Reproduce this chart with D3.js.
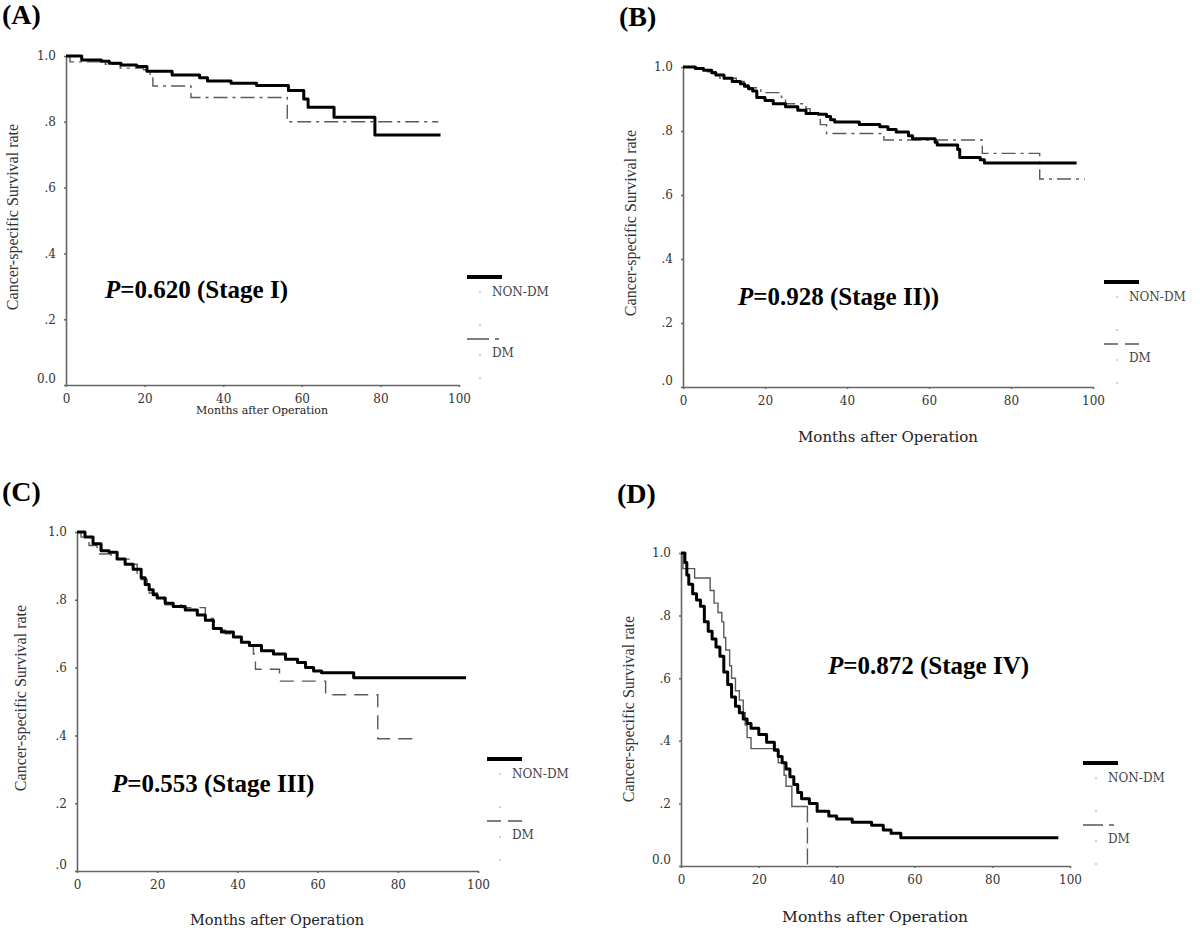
<!DOCTYPE html>
<html>
<head>
<meta charset="utf-8">
<script src="https://cdn.jsdelivr.net/npm/d3@7"></script>
<style>
  body { margin: 0; background: #fff; }
  svg { display: block; }
  .tick text { font-family: "DejaVu Serif", serif; fill: #333; }
  .domain, .tick line { stroke: #666; }
</style>
</head>
<body>
<svg id="chart" width="1200" height="937"></svg>
<script>
// Kaplan-Meier step points, [months, survival rate]
var nonDmA = [[0,1],[4,0.988],[9,0.984],[11,0.978],[14,0.973],[18,0.968],[20.6,0.954],[27,0.942],[34,0.934],[36,0.924],[42,0.917],[48.5,0.91],[56.6,0.895],[60.5,0.869],[61.6,0.844],[68.2,0.814],[78.6,0.76],[95.3,0.76]];
var dmA = [[0,1],[1,0.982],[10,0.975],[13.8,0.963],[17.5,0.963],[19.7,0.958],[21.4,0.94],[22.1,0.909],[31.8,0.874],[56.3,0.80],[94.7,0.80]];

var nonDmB = [[0,1],[3,0.995],[5,0.99],[7,0.982],[8,0.975],[10,0.965],[12,0.955],[14,0.948],[15,0.94],[16,0.932],[17,0.925],[18,0.905],[20,0.895],[22,0.885],[25,0.876],[28,0.865],[30,0.855],[33,0.852],[35,0.845],[36,0.835],[37,0.828],[43,0.82],[48,0.813],[50,0.805],[52,0.797],[55,0.785],[56,0.776],[61.5,0.765],[62,0.756],[67,0.742],[67.5,0.717],[72.5,0.71],[73.5,0.70],[96,0.70]];
var dmB = [[0,1],[4,0.995],[6,0.985],[8,0.975],[9,0.965],[13,0.955],[15,0.945],[16,0.935],[19,0.92],[24,0.905],[25,0.885],[30,0.87],[31,0.855],[33.5,0.82],[35,0.792],[49,0.772],[73,0.73],[87,0.65],[98,0.65]];

var nonDmC = [[0,1],[2,0.985],[4,0.965],[6,0.945],[8,0.94],[10,0.92],[12,0.905],[14,0.89],[16,0.865],[17,0.845],[18,0.83],[19,0.815],[20,0.805],[22,0.79],[24,0.78],[27,0.77],[30,0.755],[32,0.74],[34,0.715],[36,0.705],[39,0.69],[41,0.675],[43,0.665],[46,0.65],[49,0.64],[52,0.625],[55,0.615],[57,0.60],[59,0.59],[61,0.585],[69,0.57],[97,0.57]];
var dmC = [[0,1],[1,0.985],[3,0.96],[5,0.935],[8.5,0.92],[13,0.905],[15,0.875],[16,0.86],[17.5,0.84],[18,0.82],[20,0.80],[22,0.785],[26,0.777],[32,0.745],[34,0.71],[37,0.70],[39,0.69],[41,0.675],[43,0.665],[44,0.64],[44.5,0.595],[50.5,0.56],[62,0.52],[75,0.39],[84,0.39]];

var nonDmD = [[0,1],[1,0.97],[1.5,0.93],[2,0.90],[3,0.87],[4,0.85],[5,0.83],[6,0.78],[7,0.75],[8,0.725],[9,0.70],[10,0.67],[11,0.62],[12,0.58],[13,0.54],[14,0.51],[15,0.49],[16,0.47],[17,0.455],[18,0.44],[20,0.42],[22,0.395],[24,0.37],[25,0.35],[26,0.33],[27,0.31],[28,0.285],[29,0.26],[30,0.235],[31,0.215],[33,0.20],[35,0.175],[38,0.16],[40,0.15],[44,0.14],[49,0.13],[52,0.115],[54,0.105],[56.5,0.09],[97,0.09]];
var dmD = [[0,1],[0.5,0.95],[3.5,0.92],[7.5,0.88],[8.5,0.84],[9.5,0.81],[10.5,0.78],[11,0.73],[11.5,0.69],[12.5,0.64],[13,0.60],[14,0.56],[15,0.53],[16,0.49],[16.5,0.45],[17,0.41],[18,0.375],[25,0.33],[26.5,0.29],[27,0.255],[28.5,0.19],[32.5,0.0]];

var xTicks = [0, 20, 40, 60, 80, 100];
var yTicks = [0, 0.2, 0.4, 0.6, 0.8, 1.0];
var yLabelsA = ["0.0", ".2", ".4", ".6", ".8", "1.0"];
var yLabelsB = [".0", ".2", ".4", ".6", ".8", "1.0"];
var panelLetters = ["(A)", "(B)", "(C)", "(D)"];
var pValues = ["0.620", "0.928", "0.553", "0.872"];
var stageNames = ["(Stage I)", "(Stage II))", "(Stage III)", "(Stage IV)"];
var groupNames = ["NON-DM", "DM"];
var xTitle = "Months after Operation";
var yTitle = "Cancer-specific Survival rate";

// layout of each panel (pixel positions only)
var panels = [
    {nonDm: nonDmA, dm: dmA, yLabels: yLabelsA, dash: "14,5,3,5",
     x0: 66, x1: 459, yTop: 56, yBot: 385,
     letter: [2, 24], p: [105, 298], leg: [467, 277], xt: [262, 414, 11], yt: [12, 217]},
    {nonDm: nonDmB, dm: dmB, yLabels: yLabelsB, dash: "14,5,3,5",
     x0: 683, x1: 1093, yTop: 67, yBot: 387,
     letter: [619, 26], p: [738, 305], leg: [1104, 282], xt: [888, 442, 15], yt: [630, 223]},
    {nonDm: nonDmC, dm: dmC, yLabels: yLabelsB, dash: "14,8",
     x0: 77, x1: 478, yTop: 532, yBot: 871,
     letter: [2, 501], p: [112, 792], leg: [487, 759], xt: [277, 925, 14.5], yt: [20, 698]},
    {nonDm: nonDmD, dm: dmD, yLabels: yLabelsA, dash: "16,5,4,5",
     x0: 681, x1: 1070, yTop: 553, yBot: 866,
     letter: [617, 503], p: [828, 674], leg: [1083, 763], xt: [875, 922, 15.5], yt: [628, 709]}
];

var svg = d3.select("#chart");
svg.append("rect").attr("width", 1200).attr("height", 937).attr("fill", "#fff");

panels.forEach(function (pn, i) {
    var x = d3.scaleLinear().domain([0, 100]).range([pn.x0, pn.x1]);
    var y = d3.scaleLinear().domain([0, 1]).range([pn.yBot, pn.yTop]);
    var g = svg.append("g");

    // x axis
    var xa = g.append("g")
        .attr("transform", "translate(0," + pn.yBot + ")")
        .call(d3.axisBottom(x).tickValues(xTicks).tickSize(2).tickSizeOuter(0).tickPadding(7));
    xa.selectAll("text").style("font-size", "12px");

    // y axis
    var ya = g.append("g")
        .attr("transform", "translate(" + pn.x0 + ",0)")
        .call(d3.axisLeft(y).tickValues(yTicks).tickSize(2).tickSizeOuter(0).tickPadding(8)
            .tickFormat(function (d, k) { return pn.yLabels[k]; }));
    ya.selectAll("text").style("font-size", "12px")
        .attr("dy", function (d) { return d === 0 ? "-0.2em" : "0.32em"; });
    g.selectAll(".domain").attr("stroke", "#666").attr("stroke-width", 1.6);
    g.selectAll(".tick line").attr("stroke", "#444").attr("stroke-width", 1.5);

    var line = d3.line()
        .curve(d3.curveStepAfter)
        .x(function (d) { return x(d[0]); })
        .y(function (d) { return y(d[1]); });

    // DM curve (thin grey, dashed)
    g.append("path")
        .datum(pn.dm)
        .attr("d", line)
        .attr("fill", "none")
        .attr("stroke", "#5a5a5a")
        .attr("stroke-width", 1.4)
        .attr("stroke-dasharray", i === 3 ? null : pn.dash);
    if (i === 3) {
        // final drop of stage IV DM curve drawn dashed
        var last = pn.dm.length - 1;
        g.append("line")
            .attr("x1", x(pn.dm[last][0])).attr("x2", x(pn.dm[last][0]))
            .attr("y1", y(pn.dm[last - 1][1])).attr("y2", y(0))
            .attr("stroke", "#fff").attr("stroke-width", 2)
            .attr("stroke-dasharray", "0,16,5,0");
    }

    // NON-DM curve (thick black)
    g.append("path")
        .datum(pn.nonDm)
        .attr("d", line)
        .attr("fill", "none")
        .attr("stroke", "#000")
        .attr("stroke-width", 3)
        .attr("stroke-linejoin", "round");

    // panel letter
    g.append("text")
        .attr("x", pn.letter[0]).attr("y", pn.letter[1])
        .style("font-family", "'Liberation Serif', serif")
        .style("font-weight", "bold")
        .style("font-size", "28px")
        .text(panelLetters[i]);

    // P value
    var pt = g.append("text")
        .attr("x", pn.p[0]).attr("y", pn.p[1])
        .style("font-family", "'Liberation Serif', serif")
        .style("font-weight", "bold")
        .style("font-size", "25px");
    pt.append("tspan").style("font-style", "italic").text("P");
    pt.append("tspan").text("=" + pValues[i] + " " + stageNames[i]);

    // axis titles
    g.append("text")
        .attr("x", pn.xt[0]).attr("y", pn.xt[1])
        .attr("text-anchor", "middle")
        .style("font-family", "'DejaVu Serif', serif")
        .style("font-size", pn.xt[2] + "px")
        .style("fill", "#222")
        .text(xTitle);
    g.append("text")
        .attr("transform", "translate(" + pn.yt[0] + "," + pn.yt[1] + ") rotate(-90)")
        .attr("text-anchor", "middle")
        .attr("dy", "0.35em")
        .style("font-family", "'Liberation Serif', serif")
        .style("font-size", "16px")
        .style("fill", "#333")
        .text(yTitle);

    // legend
    var lx = pn.leg[0], ly = pn.leg[1];
    var lg = g.append("g");
    lg.append("line")
        .attr("x1", lx).attr("x2", lx + 35).attr("y1", ly).attr("y2", ly)
        .attr("stroke", "#000").attr("stroke-width", 4);
    lg.append("line")
        .attr("x1", lx).attr("x2", lx + 35).attr("y1", ly + 62).attr("y2", ly + 62)
        .attr("stroke", "#555").attr("stroke-width", 1.6)
        .attr("stroke-dasharray", i === 0 ? "22,6,4,10" : (i === 3 ? "20,6,5,10" : "14,7"));
    [15, 48, 78, 101].forEach(function (dy) {
        lg.append("circle")
            .attr("cx", lx + 13).attr("cy", ly + dy).attr("r", 0.8)
            .attr("fill", "#999");
    });
    groupNames.forEach(function (name, k) {
        lg.append("text")
            .attr("x", lx + 25).attr("y", ly + 19 + k * 61)
            .style("font-family", "'DejaVu Serif', serif")
            .style("font-size", "12px")
            .style("fill", "#444")
            .text(name);
    });
});
</script>
</body>
</html>
